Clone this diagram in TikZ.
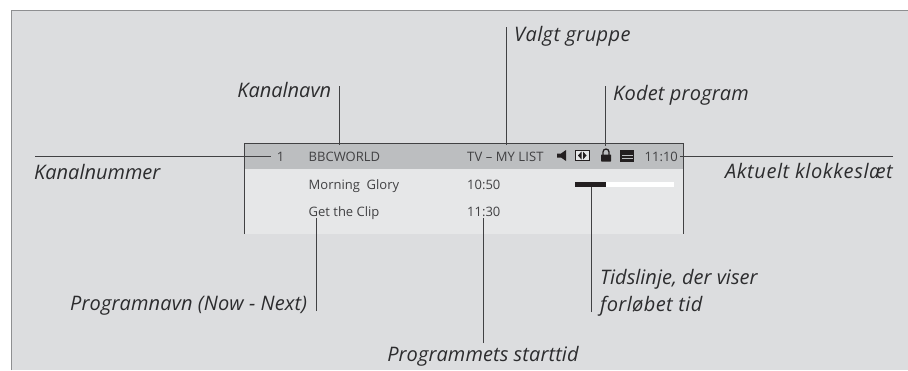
\documentclass[tikz,border=0pt]{standalone}
\usepackage{fontspec}
\setmainfont{Open Sans}
\definecolor{bgg}{HTML}{DCDDDF}
\definecolor{hdr}{HTML}{BCBEC0}
\definecolor{pnl}{HTML}{E6E7E8}
\definecolor{edge}{HTML}{8E8F91}
\definecolor{ink}{HTML}{2C2C2E}
\definecolor{iconc}{HTML}{231F20}
\tikzset{
  lbl/.style={inner sep=0pt,font=\fontsize{20}{24}\selectfont\itshape,text=ink},
  osd/.style={inner sep=0pt,font=\fontsize{13}{16}\selectfont,text=ink!90},
  con/.style={draw=ink!90,line width=0.9pt},
}
\begin{document}
\begin{tikzpicture}[x=1pt,y=-1pt]
\useasboundingbox (0,0) rectangle (908,370);
\fill[white] (0,0) rectangle (908,370);
\fill[bgg] (11,10) rectangle (908,370);
\draw[edge,line width=1pt] (11,370) -- (11,10.5) -- (908,10.5);
% panel
\fill[pnl] (244.5,168.5) rectangle (683.5,234);
\fill[hdr] (244.5,143) rectangle (683.5,168.5);
\draw[con] (244.5,234) -- (244.5,143) -- (683.5,143) -- (683.5,234);
% osd text
\node[osd,anchor=base] (n1) at (280.5,161) {1};
\node[osd,anchor=base west] (bbc) at (308.5,161) {BBCWORLD};
\node[osd,anchor=base west] (tv) at (467,161) {\addfontfeatures{LetterSpace=1}TV – MY LIST};
\node[osd,anchor=base west] (clk) at (644.5,161) {11:10};
\node[osd,anchor=base west] (mg) at (308.5,189) {Morning\ \ Glory};
\node[osd,anchor=base west] (t1) at (467,189) {10:50};
\node[osd,anchor=base west] (gc) at (308.5,216) {Get the Clip};
\node[osd,anchor=base west] (t2) at (467,216) {11:30};
% icons
\fill[iconc] (557,153.5) -- (561,153.5) -- (566,150) -- (566,161) -- (561,157.5) -- (557,157.5) -- cycle;
\draw[iconc,line width=1pt,fill=pnl] (575.5,150.5) rectangle (589,160.5);
\fill[iconc] (581.5,151.5) -- (578,155.5) -- (581.5,159.5) -- cycle;
\fill[iconc] (583,151.5) -- (586.5,155.5) -- (583,159.5) -- cycle;
\fill[iconc,rounded corners=0.5pt] (601,154.5) rectangle (611,161.5);
\draw[iconc,line width=1.3pt] (603,155) -- (603,152) arc[start angle=180,end angle=360,radius=3] -- (609,155);
\fill[iconc] (620,149.5) rectangle (634,161.5);
\fill[hdr] (621.5,155) rectangle (632.5,156.2);
\fill[hdr] (621.5,158) rectangle (632.5,159.2);
% timeline
\fill[iconc] (574.5,182) rectangle (605.5,186.5);
\fill[white] (605.5,182) rectangle (674,186.5);
\coordinate (bar) at (591,186.5);
% labels
\node[lbl,anchor=base west] (kn) at (34,179) {Kanalnummer};
\node[lbl,anchor=base east] (ak) at (893,178) {\addfontfeatures{LetterSpace=3}Aktuelt klokkeslæt};
\node[lbl,anchor=base east] (ka) at (331.5,97) {Kanalnavn};
\node[lbl,anchor=base west] (vg) at (514,41) {\addfontfeatures{LetterSpace=2}Valgt gruppe};
\node[lbl,anchor=base west] (ko) at (613,100) {\addfontfeatures{LetterSpace=1}Kodet program};
\node[lbl,anchor=base west] (pn) at (70,310) {\addfontfeatures{LetterSpace=0.7}Programnavn (Now - Next)};
\node[lbl,anchor=base] (st) at (483,361) {\addfontfeatures{LetterSpace=0.5}Programmets starttid};
\node[lbl,anchor=base west] (ti) at (600,284) {Tidslinje, der viser};
\node[lbl,anchor=base west] (fo) at (600,311) {\addfontfeatures{LetterSpace=2}forløbet tid};
% connector ends
\coordinate (c1) at (35,156);
\coordinate (c2) at (893,156);
\coordinate (c3) at (339,86);
\coordinate (c4) at (506,27);
\coordinate (c5) at (605,86);
\coordinate (c6) at (316,311);
\coordinate (c7) at (483,343);
\coordinate (c8) at (591,312);
\coordinate (e1) at (271,156);
\coordinate (e2) at (680,156);
\coordinate (e3) at (339,145);
\coordinate (e4) at (506,145);
\coordinate (e5) at (605,146);
\coordinate (e6) at (316,218);
\coordinate (e7) at (483,218);
\draw[con] (c1) -- (e1);
\draw[con] (c2) -- (e2);
\draw[con] (c3) -- (e3);
\draw[con] (c4) -- (e4);
\draw[con] (c5) -- (e5);
\draw[con] (c6) -- (e6);
\draw[con] (c7) -- (e7);
\draw[con] (c8) -- (bar);
\end{tikzpicture}
\end{document}
